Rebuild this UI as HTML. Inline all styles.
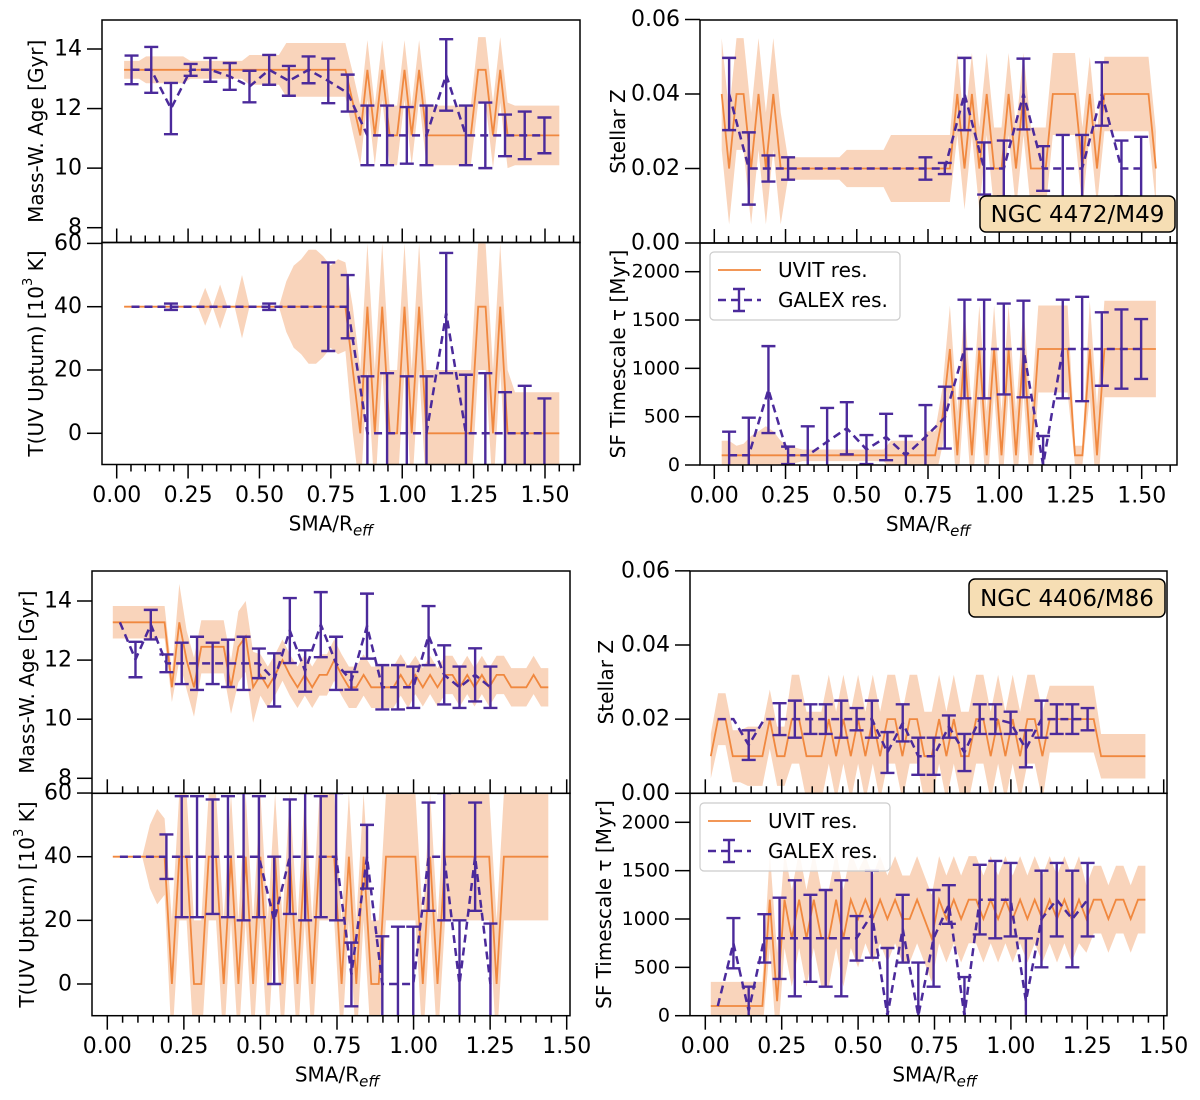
<!DOCTYPE html>
<html><head><meta charset="utf-8">
<style>
html,body{margin:0;padding:0;background:#fff;}
svg{display:block;font-family:"DejaVu Sans","Liberation Sans",sans-serif;}
</style></head>
<body>
<svg id="chart" width="1200" height="1100" viewBox="0 0 1200 1100" xmlns="http://www.w3.org/2000/svg"></svg>
<script>
// ---------------- DATA ----------------
const uvitXTop = [0.026,0.052,0.078,0.103,0.129,0.155,0.181,0.207,0.233,0.258,0.284,0.310,0.336,0.362,0.388,0.413,0.439,0.465,0.491,0.517,0.543,0.568,0.594,0.620,0.646,0.672,0.698,0.723,0.749,0.775,0.801,0.827,0.853,0.878,0.904,0.930,0.956,0.982,1.008,1.033,1.059,1.085,1.111,1.137,1.163,1.188,1.214,1.240,1.266,1.292,1.318,1.343,1.369,1.395,1.421,1.447,1.473,1.498,1.524,1.550];
const galexXTop = [0.052,0.121,0.190,0.259,0.328,0.396,0.465,0.534,0.603,0.672,0.741,0.809,0.878,0.947,1.016,1.085,1.154,1.223,1.291,1.360,1.429,1.498];
const uvitXBot = [0.018,0.042,0.066,0.090,0.114,0.139,0.163,0.187,0.211,0.235,0.259,0.283,0.307,0.331,0.355,0.380,0.404,0.428,0.452,0.476,0.500,0.524,0.548,0.572,0.596,0.621,0.645,0.669,0.693,0.717,0.741,0.765,0.789,0.813,0.837,0.862,0.886,0.910,0.934,0.958,0.982,1.006,1.030,1.054,1.078,1.103,1.127,1.151,1.175,1.199,1.223,1.247,1.271,1.295,1.319,1.344,1.368,1.392,1.416,1.440];
const galexXBot = [0.041,0.092,0.142,0.193,0.243,0.293,0.344,0.394,0.445,0.495,0.545,0.596,0.646,0.697,0.747,0.797,0.848,0.898,0.949,0.999,1.049,1.100,1.150,1.201,1.251];

// M49 age
const ageTopUvit = [13.3,13.3,13.3,13.3,13.3,13.3,13.3,13.3,13.3,13.3,13.3,13.3,13.3,13.3,13.3,13.3,13.3,13.3,13.3,13.3,13.3,13.3,13.3,13.3,13.3,13.3,13.3,13.3,13.3,13.3,13.3,12.2,11.1,13.3,11.1,13.3,11.1,11.1,13.3,11.1,13.3,11.1,11.1,11.1,11.1,11.1,11.1,11.1,13.3,13.3,11.1,13.3,11.1,11.1,11.1,11.1,11.1,11.1,11.1,11.1];
const ageTopUvitErr = [0.3,0.3,0.3,0.45,0.45,0.45,0.45,0.45,0.45,0.3,0.3,0.3,0.3,0.3,0.3,0.3,0.3,0.5,0.5,0.5,0.5,0.5,0.9,0.9,0.9,0.9,0.9,0.9,0.9,0.9,0.9,1.0,1.0,1.0,1.0,1.0,1.0,1.0,1.0,1.0,1.0,1.0,1.0,1.0,1.0,1.0,1.0,1.0,1.1,1.1,1.1,1.1,1.1,1.0,1.0,1.0,1.0,1.0,1.0,1.0];
const ageTopGalex = [13.3,13.3,12.0,13.3,13.3,13.08,12.74,13.3,12.93,13.3,12.93,12.52,11.1,11.1,11.1,11.1,13.13,11.1,11.1,11.1,11.1,11.1];
const ageTopGalexErr = [0.48,0.77,0.86,0.2,0.4,0.45,0.53,0.5,0.5,0.45,0.75,0.62,1.0,1.0,0.95,1.0,1.2,1.0,1.1,0.7,0.8,0.6];

// M49 temperature
const tempTopUvit = [40,40,40,40,40,40,40,40,40,40,40,40,40,40,40,40,40,40,40,40,40,40,40,40,40,40,40,40,40,40,40,20,0,40,0,40,0,0,40,0,40,0,0,0,0,0,0,0,40,40,0,40,0,0,0,0,0,0,0,0];
const tempTopUvitErr = [0,0,0,0,0,0,0,0,0,0,0,6,0,7,0,0,10,0,0,0,0,0,8,13,15,18,18,16,13,15,14,20,20,20,20,20,20,20,20,20,20,20,20,20,20,20,20,20,20,20,20,20,20,13,13,13,13,13,13,13];
const tempTopGalex = [40,40,40,40,40,40,40,40,40,40,40,40,0,0,0,0,38,0,0,0,0,0];
const tempTopGalexErr = [0,0,1,0,0,0,0,1,0,0,14,10,18,19,18,18,19,18.5,19,13,15,11];

// M49 metallicity
const zTopUvit = [0.04,0.02,0.04,0.04,0.02,0.04,0.02,0.04,0.02,0.02,0.02,0.02,0.02,0.02,0.02,0.02,0.02,0.02,0.02,0.02,0.02,0.02,0.02,0.02,0.02,0.02,0.02,0.02,0.02,0.02,0.02,0.02,0.04,0.02,0.04,0.02,0.04,0.02,0.02,0.04,0.02,0.04,0.02,0.02,0.02,0.04,0.04,0.04,0.04,0.02,0.04,0.02,0.04,0.04,0.04,0.04,0.04,0.04,0.04,0.02];
const zTopUvitErr = [0.015,0.015,0.015,0.015,0.015,0.015,0.015,0.015,0.015,0.003,0.003,0.003,0.003,0.003,0.003,0.003,0.003,0.005,0.005,0.005,0.005,0.005,0.005,0.009,0.009,0.009,0.009,0.009,0.009,0.009,0.009,0.009,0.011,0.011,0.011,0.011,0.011,0.011,0.011,0.011,0.011,0.011,0.011,0.011,0.011,0.011,0.011,0.011,0.011,0.011,0.01,0.01,0.01,0.01,0.01,0.01,0.01,0.01,0.01,0.01];
const zTopGalex = [0.04,0.02,0.02,0.02,0.02,0.02,0.02,0.02,0.02,0.02,0.02,0.02,0.04,0.02,0.02,0.04,0.02,0.02,0.02,0.04,0.02,0.02];
const zTopGalexErr = [0.0097,0.0097,0.0035,0.003,0,0,0,0,0,0,0.003,0.0015,0.0097,0.007,0.0075,0.0095,0.006,0.009,0.009,0.0085,0.0075,0.0085];

// M49 SF timescale
const tauTopUvit = [100,100,100,100,100,100,100,100,100,100,100,100,100,100,100,100,100,100,100,100,100,100,100,100,100,100,100,100,100,100,500,1200,100,1200,100,1200,100,1200,100,1200,100,1200,100,1200,1200,1200,1200,1200,100,100,1200,100,1200,1200,1200,1200,1200,1200,1200,1200];
const tauTopUvitErr = [150,150,100,120,200,250,300,250,150,100,80,60,60,60,60,60,60,60,60,60,60,60,60,150,150,150,150,150,250,250,300,450,450,450,450,450,450,450,450,450,450,450,450,450,450,450,450,450,100,100,500,500,500,500,500,500,500,500,500,500];
const tauTopGalex = [100,100,780,100,100,240,380,160,290,100,290,490,1200,1200,1200,1200,0,1200,1200,1200,1200,1200];
const tauTopGalexErr = [245,390,450,90,300,350,270,150,240,200,330,320,510,510,470,500,300,510,540,380,410,310];

// M86 age
const ageBotUvit = [13.28,13.28,13.28,13.28,13.28,13.28,13.28,13.28,11.08,13.28,12.0,11.08,12.45,12.45,12.45,12.45,11.08,12.45,12.8,11.08,11.5,11.08,11.5,12.0,11.5,11.08,11.5,11.08,11.5,11.5,12.0,11.5,11.08,11.08,11.5,11.08,11.08,11.08,11.08,11.5,11.08,11.5,11.08,11.5,11.08,11.5,11.5,11.08,11.5,11.08,11.5,11.08,11.5,11.5,11.08,11.08,11.08,11.5,11.08,11.08];
const ageBotUvitErr = [0.55,0.55,0.55,0.55,0.55,0.55,0.55,0.55,0.5,1.3,1.0,1.0,0.9,0.9,0.9,0.9,0.9,1.2,1.2,1.2,0.7,0.7,0.7,0.7,0.7,0.7,0.7,0.7,0.7,0.7,0.7,0.7,0.7,0.7,0.7,0.7,0.7,0.7,0.7,0.7,0.7,0.65,0.65,0.65,0.65,0.65,0.65,0.65,0.65,0.65,0.65,0.65,0.65,0.65,0.65,0.65,0.65,0.65,0.65,0.65];
const ageBotGalex = [13.28,12.02,13.2,11.89,11.89,11.89,11.89,11.89,11.89,11.89,11.33,13.0,11.63,13.2,11.89,11.3,13.15,11.08,11.08,11.08,12.83,11.5,11.08,11.5,11.08];
const ageBotGalexErr = [0,0.6,0.5,0.3,0.7,0.9,0.7,0.8,0.9,0.5,0.9,1.1,0.7,1.1,0.9,0.3,1.1,0.75,0.75,0.7,1.0,1.0,0.7,0.9,0.7];

// M86 temperature
const tempBotUvit = [40,40,40,40,40,40,40,40,0,40,40,0,0,40,40,0,40,0,40,0,40,0,40,0,40,0,40,0,40,40,40,0,40,0,40,0,0,40,40,40,40,40,0,40,0,40,40,40,40,40,40,40,0,40,40,40,40,40,40,40];
const tempBotUvitErr = [0,0,0,0,0,10,15,12,20,20,20,20,20,20,20,20,20,20,20,20,20,20,20,20,20,20,20,20,20,20,20,20,20,20,20,20,20,20,20,20,20,20,20,20,20,20,20,20,20,20,20,20,20,20,20,20,20,20,20,20];
const tempBotGalex = [40,40,40,40,40,40,40,40,40,40,20,40,40,40,40,3,40,0,0,0,40,40,0,40,0];
const tempBotGalexErr = [0,0,0,7,19,19,18,19,20,19,20,18,20,19,20,10,10,15,18,18,17,20,20,17,19];

// M86 metallicity
const zBotUvit = [0.01,0.02,0.02,0.01,0.01,0.01,0.01,0.01,0.02,0.01,0.01,0.02,0.02,0.01,0.01,0.01,0.02,0.01,0.02,0.01,0.02,0.01,0.02,0.01,0.02,0.02,0.01,0.02,0.02,0.01,0.01,0.02,0.01,0.02,0.01,0.01,0.02,0.02,0.01,0.02,0.01,0.02,0.01,0.02,0.02,0.01,0.02,0.02,0.02,0.02,0.02,0.02,0.02,0.01,0.01,0.01,0.01,0.01,0.01,0.01];
const zBotUvitErr = [0.006,0.007,0.007,0.007,0.007,0.008,0.008,0.008,0.008,0.008,0.008,0.012,0.012,0.012,0.012,0.012,0.012,0.012,0.012,0.012,0.012,0.012,0.012,0.012,0.012,0.012,0.012,0.012,0.012,0.012,0.012,0.012,0.012,0.012,0.012,0.012,0.012,0.012,0.012,0.012,0.012,0.012,0.012,0.012,0.012,0.012,0.009,0.009,0.009,0.009,0.009,0.009,0.009,0.006,0.006,0.006,0.006,0.006,0.006,0.006];
const zBotGalex = [0.02,0.02,0.013,0.02,0.02,0.02,0.02,0.02,0.02,0.02,0.02,0.011,0.019,0.01,0.01,0.018,0.011,0.02,0.02,0.019,0.012,0.02,0.02,0.02,0.02];
const zBotGalexErr = [0,0,0.004,0,0.0043,0.005,0.004,0.004,0.005,0.003,0.005,0.0055,0.005,0.005,0.005,0.003,0.005,0.004,0.004,0.003,0.005,0.005,0.004,0.004,0.003];

// M86 SF timescale
const tauBotUvit = [100,100,100,100,100,100,100,100,1200,150,1200,800,1200,800,1200,800,800,1200,800,1200,1000,1200,1000,1200,1000,1200,1000,1000,1200,1000,800,1200,1000,1200,1000,1200,1200,1000,1200,1000,1200,1000,1200,1000,1200,1000,1200,1000,1200,1000,1200,1000,1200,1200,1000,1200,1200,1000,1200,1200];
const tauBotUvitErr = [250,250,250,250,250,250,250,250,500,500,500,500,500,500,500,500,500,500,500,500,500,450,450,450,450,450,450,450,450,450,450,450,450,450,450,450,450,450,450,450,450,450,450,450,450,450,450,450,450,450,450,350,350,350,350,350,350,350,350,350];
const tauBotGalex = [100,750,50,800,800,800,800,800,800,800,1050,0,900,0,800,1150,0,1200,1200,1200,150,1000,1200,1000,1200];
const tauBotGalexErr = [0,260,250,250,420,600,450,500,600,230,450,700,350,550,500,200,400,360,400,380,650,500,380,500,380];

// Tick labels
const xTickVals = [0,0.25,0.5,0.75,1.0,1.25,1.5];
const xTickLabels = ['0.00','0.25','0.50','0.75','1.00','1.25','1.50'];
const ageTicks = [8,10,12,14];
const ageTickLabels = ['8','10','12','14'];
const tempTicks = [0,20,40,60];
const tempTickLabels = ['0','20','40','60'];
const zTicks = [0,0.02,0.04,0.06];
const zTickLabels = ['0.00','0.02','0.04','0.06'];
const tauTicks = [0,500,1000,1500,2000];
const tauTickLabels = ['0','500','1000','1500','2000'];

// ---------------- DRAWING ----------------
const NS = 'http://www.w3.org/2000/svg';
const svg = document.getElementById('chart');
const ORANGE = '#f0883f', BAND = '#f9d4bb', PURPLE = '#4b2a9b';
function mk(tag, attrs, parent){ const e = document.createElementNS(NS, tag); for (const k in attrs) e.setAttribute(k, attrs[k]); (parent||svg).appendChild(e); return e; }

let clipId = 0;
function drawPanel(p){
  const g = mk('g', {});
  
  
  const X = v => p.xa + v * (p.xb - p.xa) / 1.5;
  const Y = v => p.y1 + (v - p.v1) * (p.y2 - p.y1) / (p.v2 - p.v1);
  const cid = 'clip' + (clipId++);
  const defs = mk('defs', {}, g);
  const cp = mk('clipPath', {id: cid}, defs);
  mk('rect', {x: p.left, y: p.top, width: p.right - p.left, height: p.bottom - p.top}, cp);
  const plot = mk('g', {'clip-path': 'url(#' + cid + ')'}, g);
  const up = [], lo = [];
  const n = Math.min(p.ux.length, p.uy.length, p.ue.length);
  for (let i = 0; i < n; i++){ up.push(X(p.ux[i]).toFixed(1) + ',' + Y(p.uy[i] + p.ue[i]).toFixed(1)); lo.push(X(p.ux[i]).toFixed(1) + ',' + Y(p.uy[i] - p.ue[i]).toFixed(1)); }
  const band = mk('polygon', {points: up.concat(lo.reverse()).join(' '), fill: BAND, stroke: 'none'}, plot);
  
  
  const uline = mk('polyline', {points: p.ux.slice(0, n).map((x, i) => X(x).toFixed(1) + ',' + Y(p.uy[i]).toFixed(1)).join(' '), fill: 'none', stroke: ORANGE, 'stroke-width': 1.8}, plot);
  
  
  const m = Math.min(p.gx.length, p.gy.length, p.ge.length);
  for (let i = 0; i < m; i++){
    if (p.ge[i] <= 0) continue;
    const x = X(p.gx[i]), yt = Y(p.gy[i] + p.ge[i]), yb = Y(p.gy[i] - p.ge[i]);
    const eb = mk('path', {d: `M${x},${yt}V${yb}M${x-7},${yt}H${x+7}M${x-7},${yb}H${x+7}`, stroke: PURPLE, 'stroke-width': 2.4, fill: 'none'}, plot);
    
    
  }
  const gline = mk('polyline', {points: p.gx.slice(0, m).map((x, i) => X(x).toFixed(1) + ',' + Y(p.gy[i]).toFixed(1)).join(' '), fill: 'none', stroke: PURPLE, 'stroke-width': 2.5, 'stroke-dasharray': '8,5'}, plot);
  
  
  mk('rect', {x: p.left, y: p.top, width: p.right - p.left, height: p.bottom - p.top, fill: 'none', stroke: '#000', 'stroke-width': 1.5}, g);
  p.yt.forEach((v, i) => {
    const y = Y(v);
    mk('line', {x1: p.left - 15, x2: p.left, y1: y, y2: y, stroke: '#000', 'stroke-width': 1.5}, g);
    const t = mk('text', {x: p.left - 20, y: y, 'text-anchor': 'end', 'dominant-baseline': 'central', 'font-size': p.yfs, fill: '#000'}, g);
    t.textContent = p.ytl[i];
    
    
  });
  const dir = p.xlabels ? 1 : -1;
  for (let k = 0; k <= 40; k++){
    const v = k * 0.05; const x = X(v);
    if (x > p.right + 0.5) break;
    const major = k % 5 === 0;
    mk('line', {x1: x, x2: x, y1: p.bottom, y2: p.bottom + dir * (major ? 14 : 7), stroke: '#000', 'stroke-width': 1.5}, g);
  }
  if (p.xlabels){
    xTickVals.forEach((v, i) => {
      const t = mk('text', {x: X(v), y: p.bottom + 31, 'text-anchor': 'middle', 'dominant-baseline': 'central', 'font-size': 22, fill: '#000'}, g);
      t.textContent = xTickLabels[i];
      
      
    });
    const xl = mk('text', {x: X(0.75), y: p.bottom + 66, 'text-anchor': 'middle', 'font-size': 20, fill: '#000'}, g);
    xl.innerHTML = 'SMA/R<tspan font-size="15" font-style="italic" dy="5">eff</tspan>';
    
    
  }
  const cy = (p.top + p.bottom) / 2;
  const yl = mk('text', {x: p.ylx, y: cy, 'text-anchor': 'middle', 'dominant-baseline': 'central', 'font-size': 20, transform: `rotate(-90 ${p.ylx} ${cy})`, fill: '#000'}, g);
  yl.innerHTML = p.ylabel;
  
  
}

const TL = {left:102, right:580, xa:116.7, xb:545};
const TR = {left:700, right:1177, xa:714.3, xb:1141.7};
const BL = {left:92, right:570, xa:107.3, xb:566.7};
const BR = {left:690, right:1167, xa:705.3, xb:1163.7};

drawPanel(Object.assign({name:'m49-age-panel', top:20, bottom:242.5, v1:14, y1:49, v2:8, y2:227.7, yt:ageTicks, ytl:ageTickLabels, yfs:22, ux:uvitXTop, uy:ageTopUvit, ue:ageTopUvitErr, gx:galexXTop, gy:ageTopGalex, ge:ageTopGalexErr, xlabels:false, ylx:36, ylabel:'Mass-W. Age [Gyr]'}, TL));
drawPanel(Object.assign({name:'m49-temperature-panel', top:242.5, bottom:464.5, v1:40, y1:306.7, v2:0, y2:433.3, yt:tempTicks, ytl:tempTickLabels, yfs:22, ux:uvitXTop, uy:tempTopUvit, ue:tempTopUvitErr, gx:galexXTop, gy:tempTopGalex, ge:tempTopGalexErr, xlabels:true, ylx:36, ylabel:'T(UV Upturn) [10<tspan font-size="13" dy="-8">3</tspan><tspan dy="8"> K]</tspan>'}, TL));
drawPanel(Object.assign({name:'m49-metallicity-panel', top:20, bottom:243, v1:0.04, y1:94, v2:0, y2:243, yt:zTicks, ytl:zTickLabels, yfs:22, ux:uvitXTop, uy:zTopUvit, ue:zTopUvitErr, gx:galexXTop, gy:zTopGalex, ge:zTopGalexErr, xlabels:false, ylx:618, ylabel:'Stellar Z'}, TR));
drawPanel(Object.assign({name:'m49-timescale-panel', top:243, bottom:465, v1:2000, y1:271.7, v2:0, y2:465, yt:tauTicks, ytl:tauTickLabels, yfs:19, ux:uvitXTop, uy:tauTopUvit, ue:tauTopUvitErr, gx:galexXTop, gy:tauTopGalex, ge:tauTopGalexErr, xlabels:true, ylx:618, ylabel:'SF Timescale τ [Myr]'}, TR));
drawPanel(Object.assign({name:'m86-age-panel', top:571, bottom:793.3, v1:14, y1:601, v2:8, y2:778.3, yt:ageTicks, ytl:ageTickLabels, yfs:22, ux:uvitXBot, uy:ageBotUvit, ue:ageBotUvitErr, gx:galexXBot, gy:ageBotGalex, ge:ageBotGalexErr, xlabels:false, ylx:27, ylabel:'Mass-W. Age [Gyr]'}, BL));
drawPanel(Object.assign({name:'m86-temperature-panel', top:793.3, bottom:1015.7, v1:40, y1:856.7, v2:0, y2:984, yt:tempTicks, ytl:tempTickLabels, yfs:22, ux:uvitXBot, uy:tempBotUvit, ue:tempBotUvitErr, gx:galexXBot, gy:tempBotGalex, ge:tempBotGalexErr, xlabels:true, ylx:27, ylabel:'T(UV Upturn) [10<tspan font-size="13" dy="-8">3</tspan><tspan dy="8"> K]</tspan>'}, BL));
drawPanel(Object.assign({name:'m86-metallicity-panel', top:571, bottom:793.3, v1:0.04, y1:645, v2:0, y2:793.3, yt:zTicks, ytl:zTickLabels, yfs:22, ux:uvitXBot, uy:zBotUvit, ue:zBotUvitErr, gx:galexXBot, gy:zBotGalex, ge:zBotGalexErr, xlabels:false, ylx:606, ylabel:'Stellar Z'}, BR));
drawPanel(Object.assign({name:'m86-timescale-panel', top:793.3, bottom:1015.7, v1:2000, y1:822.3, v2:0, y2:1015.7, yt:tauTicks, ytl:tauTickLabels, yfs:19, ux:uvitXBot, uy:tauBotUvit, ue:tauBotUvitErr, gx:galexXBot, gy:tauBotGalex, ge:tauBotGalexErr, xlabels:true, ylx:604, ylabel:'SF Timescale τ [Myr]'}, BR));

function legend(x, y, nm){
  const g = mk('g', {});
  
  
  mk('rect', {x: x, y: y, width: 190, height: 68, rx: 4, fill: '#fff', 'fill-opacity': 0.85, stroke: '#ccc', 'stroke-width': 1.2}, g);
  mk('line', {x1: x + 8, x2: x + 51, y1: y + 18, y2: y + 18, stroke: ORANGE, 'stroke-width': 1.8}, g);
  mk('path', {d: `M${x+8},${y+48}H${x+51}`, stroke: PURPLE, 'stroke-width': 2.5, 'stroke-dasharray': '8,5'}, g);
  mk('path', {d: `M${x+29},${y+37}V${y+59}M${x+23},${y+37}H${x+35}M${x+23},${y+59}H${x+35}`, stroke: PURPLE, 'stroke-width': 2.4}, g);
  const t1 = mk('text', {x: x + 68, y: y + 18, 'dominant-baseline': 'central', 'font-size': 20}, g);
  t1.textContent = 'UVIT res.';
  
  
  const t2 = mk('text', {x: x + 68, y: y + 48, 'dominant-baseline': 'central', 'font-size': 20}, g);
  t2.textContent = 'GALEX res.';
  
  
}
legend(710, 252, 'legend-m49');
legend(700, 803, 'legend-m86');

function tag(x, y, w, h, txt, nm){
  const r = mk('rect', {x: x, y: y, width: w, height: h, rx: 6, fill: '#f6deb4', stroke: '#000', 'stroke-width': 1.5});
  
  
  const t = mk('text', {x: x + w / 2, y: y + h / 2 + 1, 'text-anchor': 'middle', 'dominant-baseline': 'central', 'font-size': 23});
  t.textContent = txt;
  
  
}
tag(980, 196, 195, 36, 'NGC 4472/M49', 'galaxy-label-m49');
tag(969, 579, 196, 38, 'NGC 4406/M86', 'galaxy-label-m86');
</script>
</body></html>
